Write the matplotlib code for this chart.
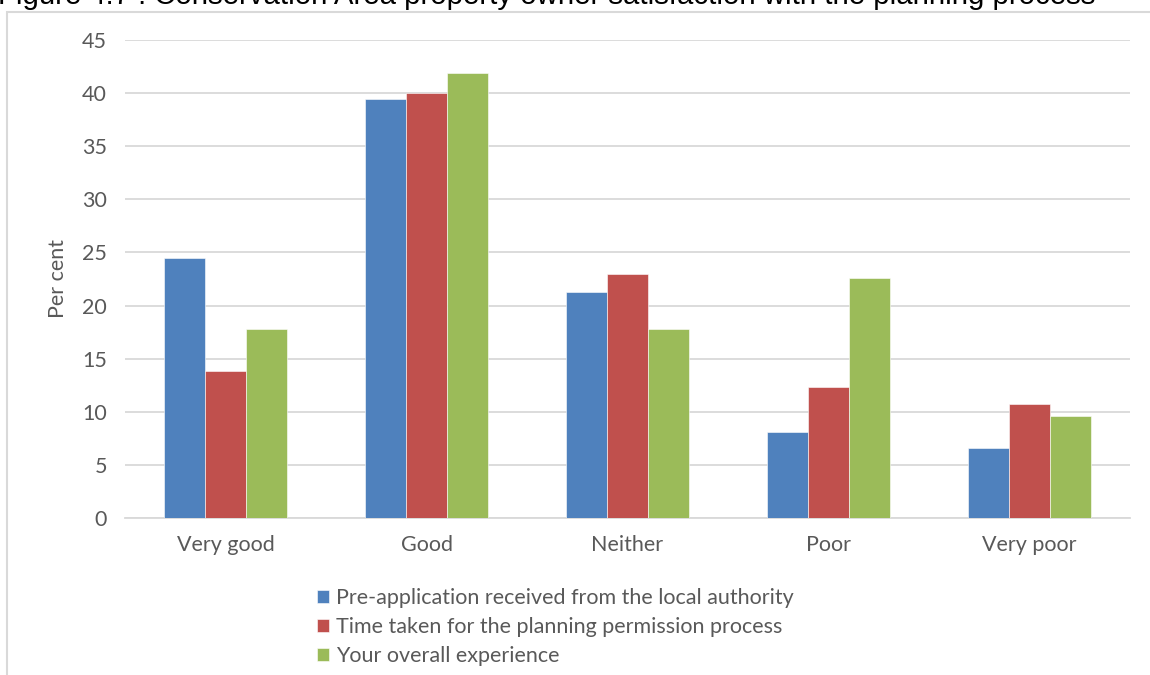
import numpy as np
import matplotlib
matplotlib.use("Agg")
import matplotlib.pyplot as plt
from matplotlib.patches import Rectangle

# Chart data
categories = ["Very good", "Good", "Neither", "Poor", "Very poor"]
series_names = ["Pre-application received from the local authority",
                "Time taken for the planning permission process",
                "Your overall experience"]
pre_application = [24.5, 39.4, 21.3, 8.1, 6.6]
time_taken = [13.8, 40.0, 23.0, 12.3, 10.7]
overall = [17.8, 41.9, 17.8, 22.6, 9.6]
y_ticks = [0, 5, 10, 15, 20, 25, 30, 35, 40, 45]

colors = ["#4F81BD", "#C0504D", "#9BBB59"]
txt = "#595959"
W, H = 1150, 675

plt.rcParams['font.family'] = ['Lato', 'DejaVu Sans']

fig = plt.figure(figsize=(W / 100, H / 100), dpi=100)

# Outer chart frame (only top/left visible in the crop)
fig.add_artist(Rectangle((7 / W, -0.1), 1.2, (H - 12) / H + 0.1,
                         transform=fig.transFigure, fill=False,
                         edgecolor="#D9D9D9", linewidth=1.5))

# Title, partially cut off at the top
fig.text(-2 / W, 1 - 4 / H, "Figure 4.7 : Conservation Area property owner satisfaction with the planning process",
         family="Liberation Sans", fontsize=21.2, color="black", va="baseline", ha="left")

ax = fig.add_axes([125 / W, 1 - 518 / H, (1130 - 125) / W, (518 - 40) / H])
x = np.arange(len(categories))
w = 0.205
data = [pre_application, time_taken, overall]
for i, vals in enumerate(data):
    ax.bar(x + (i - 1) * w, vals, w, color=colors[i], label=series_names[i],
           edgecolor="white", linewidth=0.4, zorder=3)

ax.set_xlim(-0.5, len(categories) - 0.5)
ax.set_ylim(0, 45)
ax.set_yticks(y_ticks)
ax.set_xticks(x)
ax.set_xticklabels(categories)
ax.grid(axis="y", color="#D9D9D9", linewidth=1.3, zorder=0)
for s in ["top", "right", "left"]:
    ax.spines[s].set_visible(False)
ax.spines["bottom"].set_color("#D9D9D9")
ax.spines["bottom"].set_linewidth(1.3)
ax.tick_params(length=0, labelsize=15.5, colors=txt, pad=13)
ax.tick_params(axis="x", pad=12)
ax.set_ylabel("Per cent", fontsize=15.5, color=txt, labelpad=10)

handles, labels = ax.get_legend_handles_labels()
fig.legend(handles, labels, loc="upper left", bbox_to_anchor=(306 / W, 1 - 577 / H),
           frameon=False, fontsize=15.5, handlelength=0.55, handleheight=0.55,
           handletextpad=0.35, labelspacing=0.42, labelcolor=txt, borderpad=0)

fig.savefig("out.png", dpi=100)
